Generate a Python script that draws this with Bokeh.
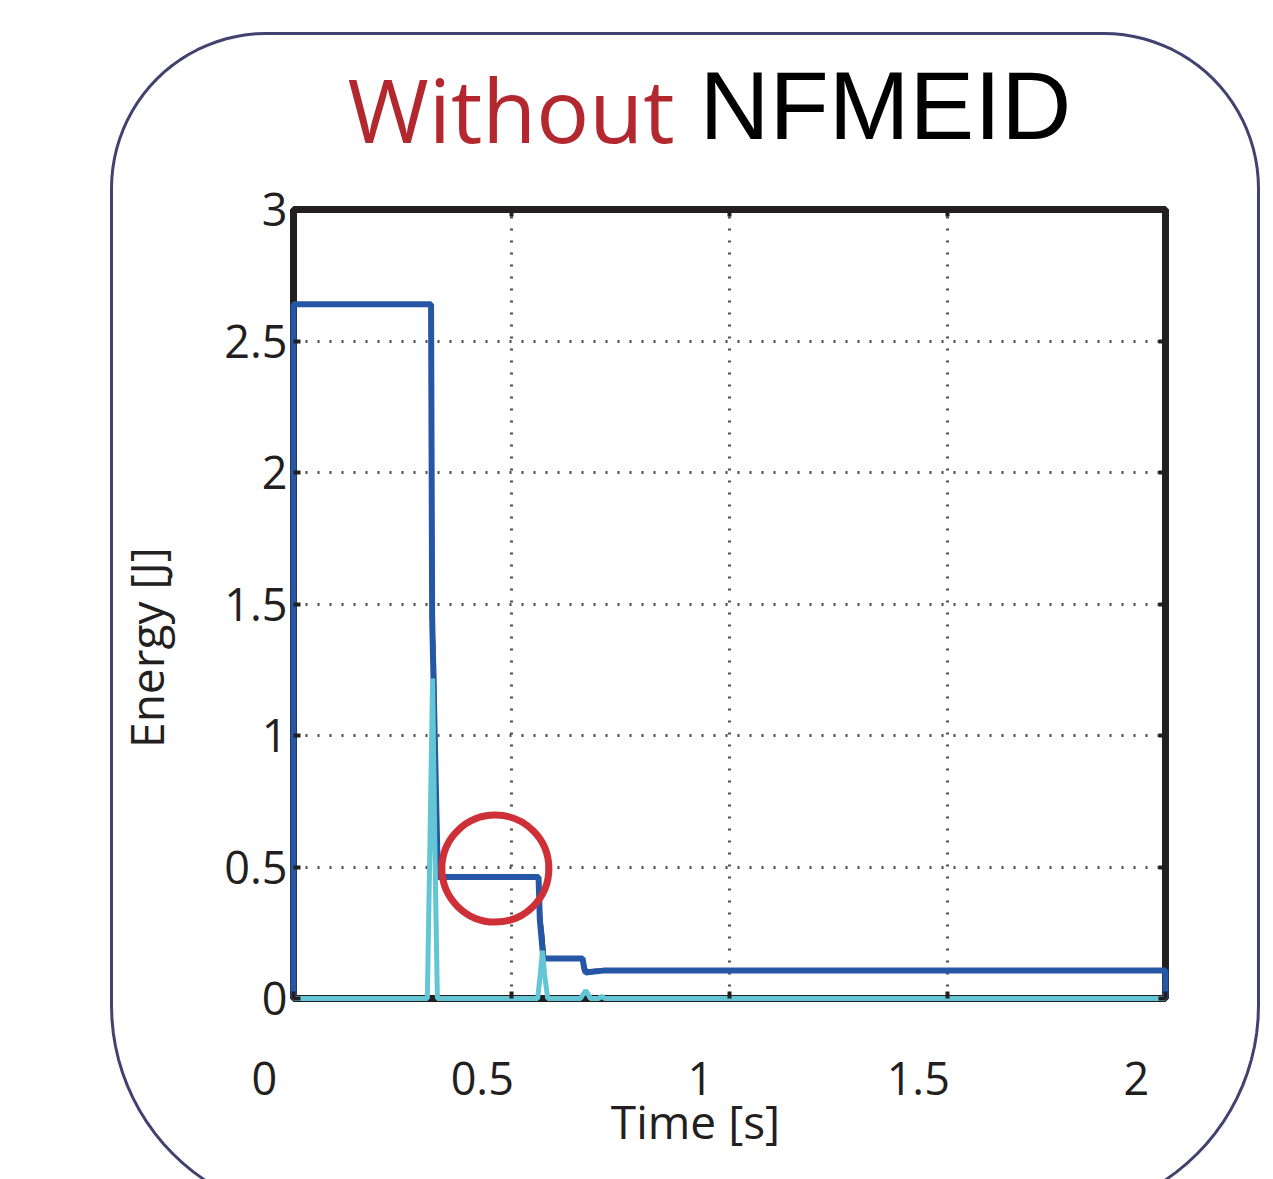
import math
from bokeh.plotting import figure
from bokeh.models import (LinearAxis, Range1d, FixedTicker, NumeralTickFormatter,
                          CustomJSTickFormatter, Grid, Label, PolyAnnotation, BoxAnnotation)
from bokeh.embed import file_html
from bokeh.resources import INLINE

# ---------------- data ----------------
x_ticks = [0, 0.5, 1, 1.5, 2]
x_tick_labels = ["0", "0.5", "1", "1.5", "2"]
y_ticks = [0, 0.5, 1, 1.5, 2, 2.5, 3]
grid_x = [0.5, 1, 1.5]
grid_y = [0.5, 1, 1.5, 2, 2.5]
x_lim = (0.0, 2.0)
y_lim = (0.0, 3.0)

t_blue = [0.0, 0.0, 0.3155, 0.318, 0.331, 0.562, 0.565, 0.573, 0.663, 0.667, 0.670, 0.690, 0.711, 2.0, 2.0]
e_blue = [0.0, 2.64, 2.64, 1.45, 0.462, 0.462, 0.30, 0.152, 0.152, 0.112, 0.099, 0.103, 0.106, 0.106, 0.0]

t_black = [0.0, 0.0, 0.3155, 0.320, 0.323, 0.326, 0.333, 0.562, 0.567, 0.571, 0.576, 0.663, 0.669, 0.673, 0.690, 2.0, 2.0]
e_black = [0.0, 2.64, 2.64, 1.40, 1.27, 0.85, 0.462, 0.462, 0.30, 0.25, 0.152, 0.152, 0.115, 0.104, 0.106, 0.106, 0.0]

t_cyan = [0.0, 0.307, 0.313, 0.319, 0.324, 0.330, 0.560, 0.566, 0.571, 0.576, 0.583,
          0.658, 0.664, 0.670, 0.676, 0.681, 0.700, 0.707, 0.714, 2.0]
e_cyan = [0.0, 0.0, 0.60, 1.217, 0.60, 0.0, 0.0, 0.09, 0.182, 0.09, 0.0,
          0.0, 0.015, 0.030, 0.015, 0.0, 0.0, 0.008, 0.0, 0.0]

highlight_x = [0.463]
highlight_y = [0.494]

title_left = "Without"
title_right = "NFMEID"
x_title = "Time [s]"
y_title = "Energy [J]"

# ---------------- layout ----------------
W, H = 1273, 1179
FL, FR, FT, FB = 293, 1165, 209, 998   # where the axes box sits, in pixels
SX = (FR - FL) / (x_lim[1] - x_lim[0])
SY = (FB - FT) / (y_lim[1] - y_lim[0])


def px_x(px):
    return x_lim[0] + (px - FL) / SX


def px_y(py):
    return y_lim[0] + (FB - py) / SY


BLUE = "#2657a6"
CYAN = "#62c6d4"
INK = "#231f20"
RED = "#cf3038"
TITLE_RED = "#b3272f"
NAVY = "#40426f"
GRID = "#4d4e50"
FONT = "Open Sans"
PAD = "\u00a0" * 5   # MATLAB-style left offset of the x tick labels

# the drawing surface covers the whole page so that the title and the
# rounded frame (outside the axes box) are not clipped
p = figure(width=W, height=H,
           x_range=Range1d(px_x(0), px_x(W)), y_range=Range1d(px_y(H), px_y(0)),
           x_axis_location=None, y_axis_location=None,
           output_backend="svg", toolbar_location=None,
           min_border_left=0, min_border_right=0, min_border_top=0, min_border_bottom=0)
p.center = [r for r in p.center if not isinstance(r, Grid)]
p.background_fill_color = "white"
p.border_fill_color = "white"
p.outline_line_color = None

# axes box
p.add_layout(BoxAnnotation(left=x_lim[0], right=x_lim[1], bottom=y_lim[0], top=y_lim[1],
                           fill_alpha=0, line_color=INK, line_alpha=1.0, line_width=7,
                           level="underlay"))

# grids
has_cross = "cross_bounds" in Grid.properties()
for dim, ticks, cross in ((0, grid_x, y_lim), (1, grid_y, x_lim)):
    if has_cross:
        p.add_layout(Grid(dimension=dim, ticker=FixedTicker(ticks=ticks), cross_bounds=cross,
                          grid_line_color=GRID, grid_line_width=3, grid_line_dash="2 10"))
    else:
        if dim == 0:
            p.segment(x0=ticks, y0=[cross[0]] * len(ticks), x1=ticks, y1=[cross[1]] * len(ticks),
                      line_color=GRID, line_width=3, line_dash="2 10")
        else:
            p.segment(x0=[cross[0]] * len(ticks), y0=ticks, x1=[cross[1]] * len(ticks), y1=ticks,
                      line_color=GRID, line_width=3, line_dash="2 10")


def inner_axis(axis):
    axis.axis_line_color = None
    axis.major_tick_in = 7
    axis.major_tick_out = 0
    axis.major_tick_line_width = 4
    axis.major_tick_line_color = INK
    axis.minor_tick_line_color = None


# left axis with labels
ly = LinearAxis(fixed_location=x_lim[0], bounds=y_lim, ticker=FixedTicker(ticks=y_ticks),
                formatter=NumeralTickFormatter(format="0.[0]"))
inner_axis(ly)
ly.major_label_standoff = 6
ly.major_label_text_font = FONT
ly.major_label_text_font_size = "45px"
ly.major_label_text_color = INK
p.add_layout(ly, "left")

# bottom axis: ticks inside, labels shifted left as in the reference
bx = LinearAxis(fixed_location=y_lim[0], bounds=x_lim, ticker=FixedTicker(ticks=x_ticks),
                major_label_overrides={v: s + PAD for v, s in zip(x_ticks, x_tick_labels)})
inner_axis(bx)
bx.major_label_standoff = 48
bx.major_label_text_font = FONT
bx.major_label_text_font_size = "45px"
bx.major_label_text_color = INK
p.add_layout(bx, "below")

# right / top: inner ticks only
ra = LinearAxis(fixed_location=x_lim[1], bounds=y_lim, ticker=FixedTicker(ticks=y_ticks),
                formatter=CustomJSTickFormatter(code="return ''"))
ta = LinearAxis(fixed_location=y_lim[1], bounds=x_lim, ticker=FixedTicker(ticks=x_ticks),
                formatter=CustomJSTickFormatter(code="return ''"))
for a, loc in ((ra, "right"), (ta, "above")):
    inner_axis(a)
    a.major_label_standoff = 0
    p.add_layout(a, loc)

# data lines
p.line(t_black, e_black, line_color=INK, line_width=3.5)
p.line(t_blue, e_blue, line_color=BLUE, line_width=6)
p.line(t_cyan, e_cyan, line_color=CYAN, line_width=5)

# highlight circle
p.scatter(highlight_x, highlight_y, marker="circle", size=107, fill_color=None,
          line_color=RED, line_width=7)


# texts placed in pixels of the page (anchor lifted to land the baseline where wanted)
def page_label(x, y, text, size, color=INK, font=FONT, align="left", angle=0.0):
    lift = 0.41 * size
    if angle:
        x, y = x - lift, y
    else:
        y = y - lift
    p.add_layout(Label(x=px_x(x), y=px_y(y), text=text,
                       text_align=align, text_baseline="alphabetic", angle=angle,
                       text_font=font, text_font_size=f"{size}px", text_color=color))


page_label(695, 1139, x_title, 46, align="center")
page_label(164, 647, y_title, 46, align="center", angle=math.pi / 2)
page_label(347, 145, title_left, 88, color=TITLE_RED)
page_label(699, 145, title_right, 97, color="black", font="Liberation Sans")

# rounded frame around everything (runs off the bottom of the page)
L, R, T, B = 111, 1258, 33, 1215
rt, rb = 155, 210
xs, ys = [], []


def arc(cx, cy, r, a0, a1, n=24):
    for i in range(n + 1):
        a = math.radians(a0 + (a1 - a0) * i / n)
        xs.append(px_x(cx + r * math.cos(a)))
        ys.append(px_y(cy - r * math.sin(a)))


arc(R - rt, T + rt, rt, 90, 0)
arc(R - rb, B - rb, rb, 0, -90)
arc(L + rb, B - rb, rb, -90, -180)
arc(L + rt, T + rt, rt, 180, 90)
p.add_layout(PolyAnnotation(xs=xs, ys=ys, fill_alpha=0, line_color=NAVY, line_alpha=1.0,
                            line_width=3))

open("out.html", "w").write(file_html(p, INLINE))
